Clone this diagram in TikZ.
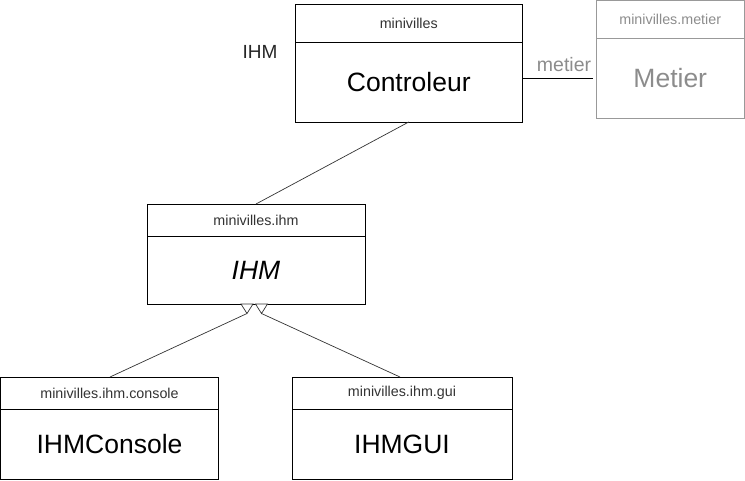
\documentclass[tikz,border=0pt]{standalone}
\usepackage{fontspec}
\setmainfont{Liberation Sans}
\definecolor{hdr}{HTML}{333333}
\definecolor{gry}{HTML}{999999}
\definecolor{gtx}{HTML}{8C8C8C}
\begin{document}
\begin{tikzpicture}[x=1pt,y=-1pt,
  cls/.style={draw=black, line width=1pt, rectangle, inner sep=0pt, outer sep=0pt},
  pkg/.style={font=\fontsize{14.3}{17}\selectfont, text=hdr, inner sep=0pt},
  nm/.style={font=\fontsize{26.5}{31}\selectfont, text=black, inner sep=0pt},
  link/.style={draw=black, line width=0.8pt},
  inh/.style={draw=black!80, line width=0.7pt},
  tri/.style={draw=black!80, line width=0.7pt, fill=white, line join=miter}
]
\useasboundingbox (0,0) rectangle (745,480);
% Controleur
\node[cls, minimum width=226.5pt, minimum height=117.5pt] (ctl) at (408.75,63.25) {};
\draw[line width=1pt] (295.5,42.5) -- (522,42.5);
\node[pkg] (ctlp) at (408.75,23.5) {minivilles};
\node[nm] (ctln) at (408.75,82) {Controleur};
% Metier
\node[cls, draw=gry, minimum width=147.5pt, minimum height=117.5pt] (met) at (670.25,59.25) {};
\draw[line width=1pt, gry] (596.5,38) -- (744,38);
\node[pkg, text=gtx] (metp) at (670.25,19) {minivilles.metier};
\node[nm, text=gtx] (metn) at (670.25,78) {Metier};
% IHM
\node[cls, minimum width=218pt, minimum height=100pt] (ihm) at (256,254) {};
\draw[line width=1pt] (147,236) -- (365,236);
\node[pkg] (ihmp) at (256,220) {minivilles.ihm};
\node[nm] (ihmn) at (256,270) {\itshape IHM};
% IHMConsole
\node[cls, minimum width=218pt, minimum height=102pt] (con) at (109.5,428) {};
\draw[line width=1pt] (0.5,409) -- (218.5,409);
\node[pkg] (conp) at (109.5,393) {minivilles.ihm.console};
\node[nm] (conn) at (109.5,444) {IHMConsole};
% IHMGUI
\node[cls, minimum width=220pt, minimum height=102pt] (gui) at (402,428) {};
\draw[line width=1pt] (292,409) -- (512,409);
\node[pkg] (guip) at (402,393) {minivilles.ihm.gui};
\node[nm] (guin) at (402,444) {IHMGUI};
% labels
\node[font=\fontsize{19}{22}\selectfont, text=black!85, inner sep=0pt] (lihm) at (260,52) {IHM};
\node[font=\fontsize{19.5}{22}\selectfont, text=gtx, inner sep=0pt] (lmet) at (564,65) {metier};
% connectors
\coordinate (ce) at (522,78);
\coordinate (me) at (593,78);
\draw[link] (ce) -- (me);
\draw[inh] (ctl.south) -- (ihm.north);
\coordinate (t1) at (247,313.5);
\coordinate (t2) at (261.5,313.5);
\coordinate (cs) at (110,377);
\coordinate (gs) at (400,377);
\draw[inh] (con.north -| cs) -- (t1);
\draw[inh] (gui.north -| gs) -- (t2);
\draw[tri] (241,304) -- (253,304) -- (t1) -- cycle;
\draw[tri] (255.5,304) -- (267.5,304) -- (t2) -- cycle;
\end{tikzpicture}
\end{document}
